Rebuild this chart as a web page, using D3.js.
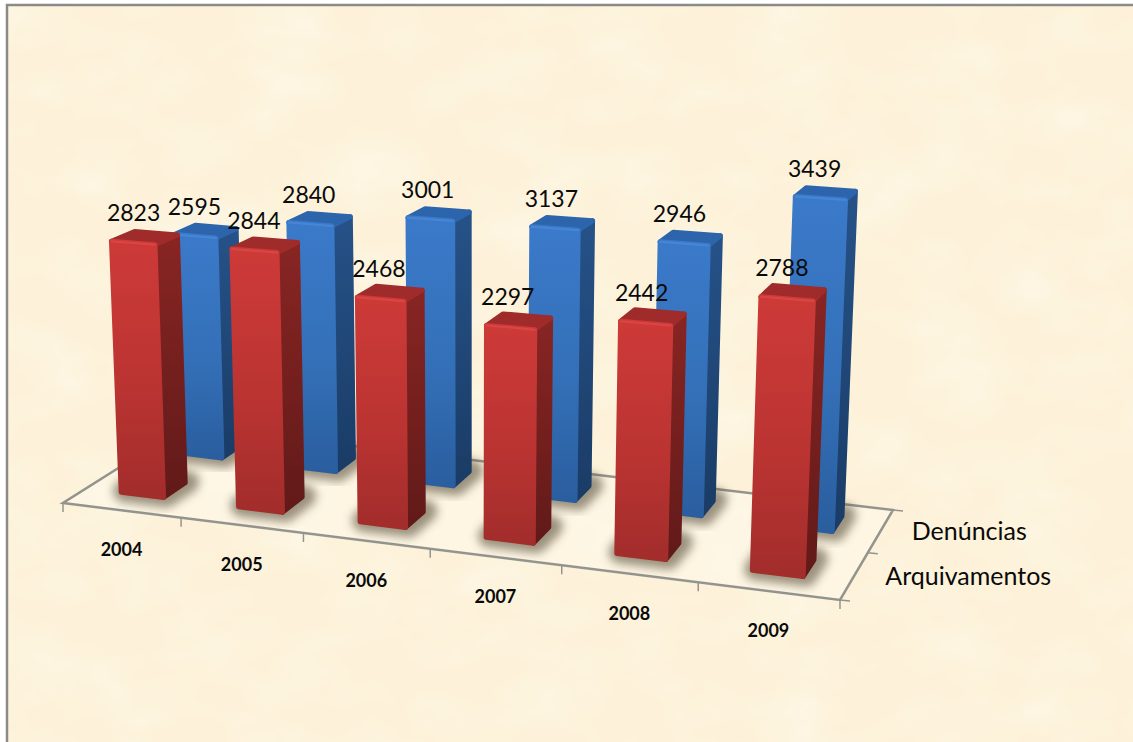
<!DOCTYPE html>
<html><head><meta charset="utf-8">
<style>html,body{margin:0;padding:0;background:#fff}svg{display:block}text{font-family:Lato,"Open Sans",sans-serif;fill:#0a0a0a}</style>
<script src="https://cdn.jsdelivr.net/npm/d3@7"></script></head><body><script>
const years = ["2004","2005","2006","2007","2008","2009"];
const seriesNames = ["Arquivamentos","Denúncias"];
const arquivamentos = [2823,2844,2468,2297,2442,2788];
const denuncias = [2595,2840,3001,3137,2946,3439];
// Bar heights: several bars do not stand exactly where their labels say.
const arquivamentosDrawn = [2823,2844,2435,2255,2420,2788];
const denunciasDrawn = [2595,2840,3001,3005,2946,3535];

const W=1133,H=742;
const svg=d3.select("body").append("svg").attr("width",W).attr("height",H);
const defs=svg.append("defs");

// floor homography: unit square -> screen quad
const Q=[[63,503],[840,600],[893,510],[185,426]];
function homography(q){
  const [[x0,y0],[x1,y1],[x2,y2],[x3,y3]]=q;
  const dx1=x1-x2,dx2=x3-x2,sx=x0-x1+x2-x3,dy1=y1-y2,dy2=y3-y2,sy=y0-y1+y2-y3;
  const den=dx1*dy2-dx2*dy1;
  const g=(sx*dy2-dx2*sy)/den,h=(dx1*sy-sx*dy1)/den;
  const a=x1-x0+g*x1,b=x3-x0+h*x3,d=y1-y0+g*y1,e=y3-y0+h*y3;
  return (u,v)=>{const w=g*u+h*v+1;return [(a*u+b*v+x0)/w,(d*u+e*v+y0)/w];};
}
const warpC=1.06;
const rawFloor=homography(Q);
const floor=(u,v)=>rawFloor(u/(warpC+(1-warpC)*u),v);
const uScale=d3.scaleBand().domain(years).range([0,1]);
const vScale=d3.scaleBand().domain(seriesNames).range([0,1]);
const liftA=0.0319,liftB=1.18e-4,liftOff=3,vanX=470,vanK=1.11e-4;
function lift(p,val){
  const h=(liftA+liftB*p[1])*val-liftOff;
  return [p[0]+(p[0]-vanX)*h*vanK,p[1]-h];
}
const line=d3.line().curve(d3.curveLinearClosed);

function grad(id,stops){
  const g=defs.append("linearGradient").attr("id",id).attr("x1",0).attr("y1",0).attr("x2",0).attr("y2",1);
  stops.forEach(([o,c])=>g.append("stop").attr("offset",o).attr("stop-color",c));
}
grad("rf",[[0,"#cd3a38"],[.55,"#bb3432"],[1,"#a22d2b"]]);
grad("rs",[[0,"#882523"],[1,"#611a19"]]);
grad("bf",[[0,"#3b7aca"],[.55,"#3470b8"],[1,"#2a5e9f"]]);
grad("bs",[[0,"#265288"],[1,"#1a3c66"]]);
const blur=defs.append("filter").attr("id","sh").attr("x","-60%").attr("y","-80%").attr("width","220%").attr("height","260%");
blur.append("feGaussianBlur").attr("stdDeviation",5);
const tex=defs.append("filter").attr("id","tex").attr("x",0).attr("y",0).attr("width","100%").attr("height","100%");
tex.append("feTurbulence").attr("type","fractalNoise").attr("baseFrequency","0.012 0.02").attr("numOctaves",3).attr("seed",4);
tex.append("feColorMatrix").attr("values","0 0 0 0 1  0 0 0 0 1  0 0 0 0 0.96  0.7 0 0 0 -0.3");

// background
svg.append("rect").attr("width",W).attr("height",H).attr("fill","#fff");
svg.append("rect").attr("x",7).attr("y",4).attr("width",W-7).attr("height",H-4).attr("fill","#fdf2d9");
svg.append("rect").attr("x",7).attr("y",4).attr("width",W-7).attr("height",H-4).attr("filter","url(#tex)");
svg.append("path").attr("d","M7,742V5H1133").attr("fill","none").attr("stroke","#8a8a8a").attr("stroke-width",2.5);

// floor
svg.append("path").attr("d",line(Q)).attr("fill","#fff8ea").attr("opacity",.6);
const axisG=svg.append("g").attr("fill","none").attr("stroke","#94948f");
axisG.append("path").attr("d",line(Q)).attr("stroke-width",2.5);
const edges=d3.range(years.length+1).map(i=>i/years.length);
axisG.selectAll(".tk").data(edges).join("path").attr("stroke-width",1.5)
  .attr("d",u=>{const p=floor(u,0);return `M${p[0]},${p[1]}v9`;});
axisG.selectAll(".rk").data([0,.5,1]).join("path").attr("stroke-width",1.5)
  .attr("d",v=>{const p=floor(1,v);return `M${p[0]},${p[1]}l10,1`;});

const bw=uScale.bandwidth(), bd=vScale.bandwidth();
const marks=[];
seriesNames.slice().reverse().forEach(s=>{
  const den=s==="Denúncias";
  years.forEach((y,i)=>marks.push({s,y,val:den?denuncias[i]:arquivamentos[i],drawn:den?denunciasDrawn[i]:arquivamentosDrawn[i]}));
});
function geom(d){
  const u0=uScale(d.y)+bw*0.30,u1=uScale(d.y)+bw*0.665;
  const v0=vScale(d.s)+bd*0.36,v1=vScale(d.s)+bd*0.72;
  const b=[floor(u0,v0),floor(u1,v0),floor(u1,v1),floor(u0,v1)];
  const t=b.map(p=>lift(p,d.drawn));
  return {b,t};
}
// shadows
svg.append("g").selectAll("path").data(marks).join("path")
  .attr("d",d=>line(geom(d).b.map(p=>[p[0]+3,p[1]-1])))
  .attr("fill","#5a4f3a").attr("stroke","#5a4f3a").attr("stroke-width",22).attr("stroke-linejoin","round")
  .attr("opacity",.6).attr("filter","url(#sh)");

// bars
const gBars=svg.append("g").attr("stroke-linejoin","round");
marks.forEach(d=>{
  const {b,t}=geom(d),red=d.s==="Arquivamentos";
  const g=gBars.append("g");
  g.append("path").attr("d",line([b[1],b[2],t[2],t[1]])).attr("fill",`url(#${red?"rs":"bs"})`).attr("stroke",`url(#${red?"rs":"bs"})`).attr("stroke-width",5);
  g.append("path").attr("d",line([t[0],t[1],t[2],t[3]])).attr("fill",red?"#9f2b2a":"#2c65ac").attr("stroke",red?"#9f2b2a":"#2c65ac").attr("stroke-width",5);
  g.append("path").attr("d",line([b[0],b[1],t[1],t[0]])).attr("fill",`url(#${red?"rf":"bf"})`).attr("stroke",`url(#${red?"rf":"bf"})`).attr("stroke-width",5);
  g.append("path").attr("d",`M${t[0]}L${t[1]}`).attr("stroke",red?"#d94643":"#4686d4").attr("stroke-width",2).attr("fill","none").attr("stroke-linecap","round");
});

// value labels
svg.append("g").selectAll("text").data(marks).join("text")
  .attr("text-anchor","middle").attr("font-size",23)
  .attr("x",d=>{const t=geom(d).t;return d3.mean(t,p=>p[0])-11;})
  .attr("y",d=>{const t=geom(d).t;return d3.mean(t,p=>p[1])-17;})
  .text(d=>d.val);

// category labels
svg.append("g").selectAll("text").data(years).join("text")
  .attr("text-anchor","middle").attr("font-size",18).attr("font-weight",700)
  .attr("x",y=>floor(uScale(y)+bw/2,0)[0])
  .attr("y",y=>floor(uScale(y)+bw/2,0)[1]+46)
  .text(y=>y);

// series labels
svg.append("g").selectAll("text").data(seriesNames).join("text")
  .attr("font-size",25)
  .attr("x",s=>floor(1,vScale(s)+bd/2)[0]+31)
  .attr("y",s=>floor(1,vScale(s)+bd/2)[1]+9)
  .text(s=>s);
</script></body></html>
